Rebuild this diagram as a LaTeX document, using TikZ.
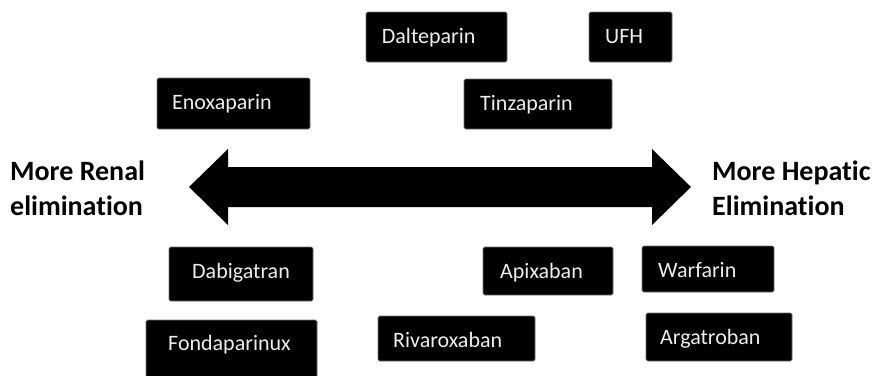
\documentclass[tikz,border=0pt]{standalone}
\usepackage{fontspec}
\setmainfont{Carlito}[Ligatures=NoCommon]
\begin{document}
\begin{tikzpicture}[x=1pt,y=-1pt,
  drugbox/.style={fill=black, draw=black!55, line width=0.6pt, rounded corners=1.5pt, inner sep=0pt},
  druglbl/.style={anchor=base west, inner sep=0pt, text=white!93!black, font=\fontsize{22}{26}\selectfont},
  sidelbl/.style={anchor=base west, inner sep=0pt, font=\bfseries\fontsize{28}{34}\selectfont}]
\useasboundingbox (0,0) rectangle (881,375);
\fill[white] (0,0) rectangle (881,375);

% arrow
\coordinate (ltip) at (189,187);
\coordinate (rtip) at (691,187);
\fill[black] (ltip) -- (228,149) -- (228,167) -- (652,167) -- (652,149) -- (rtip)
  -- (652,225) -- (652,207) -- (228,207) -- (228,225) -- cycle;

% side labels
\node[sidelbl] (renA) at (10,180) {More Renal};
\node[sidelbl] (renB) at (10,215) {elimination};
\node[sidelbl] (hepA) at (712,180) {More Hepatic};
\node[sidelbl] (hepB) at (712,215) {Elimination};

% boxes
\node[drugbox, minimum width=141pt, minimum height=50pt] (dal) at (436.5,37) {};
\node[druglbl] (dalT) at (381.7,43) {Dalteparin};
\node[drugbox, minimum width=83pt, minimum height=50pt] (ufh) at (630.5,37) {};
\node[druglbl] (ufhT) at (605,43) {UFH};
\node[drugbox, minimum width=153pt, minimum height=51pt] (eno) at (233.5,103.5) {};
\node[druglbl] (enoT) at (172,109) {Enoxaparin};
\node[drugbox, minimum width=148pt, minimum height=50pt] (tin) at (538,104) {};
\node[druglbl] (tinT) at (480,110) {Tinzaparin};

\node[drugbox, minimum width=144pt, minimum height=54pt] (dab) at (241,274) {};
\node[druglbl] (dabT) at (192,278) {Dabigatran};
\node[drugbox, minimum width=171pt, minimum height=60pt] (fon) at (231.5,350) {};
\node[druglbl] (fonT) at (168,350) {Fondaparinux};
\node[drugbox, minimum width=157pt, minimum height=45pt] (riv) at (456.5,338.5) {};
\node[druglbl] (rivT) at (393,347) {Rivaroxaban};
\node[drugbox, minimum width=130pt, minimum height=48pt] (api) at (548,271) {};
\node[druglbl] (apiT) at (500,278) {Apixaban};
\node[drugbox, minimum width=132pt, minimum height=46pt] (war) at (708,269) {};
\node[druglbl] (warT) at (658,277) {Warfarin};
\node[drugbox, minimum width=146pt, minimum height=48pt] (arg) at (719,337) {};
\node[druglbl] (argT) at (660,344) {Argatroban};
\end{tikzpicture}
\end{document}
